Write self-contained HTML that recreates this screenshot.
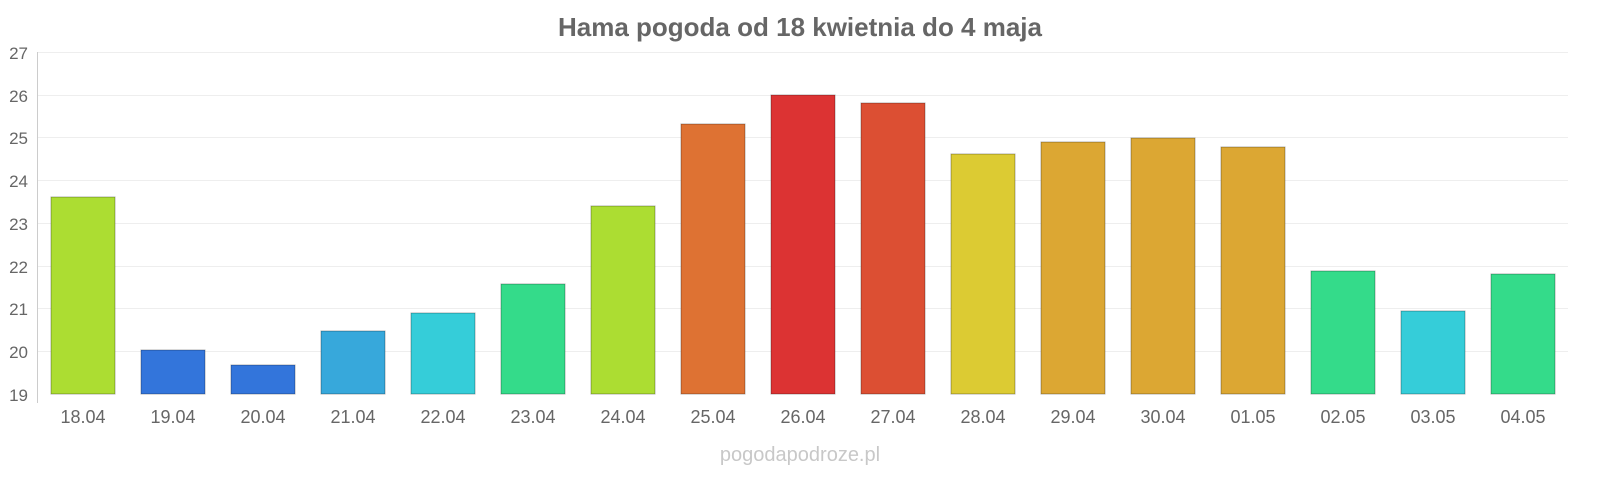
<!DOCTYPE html>
<html><head><meta charset="utf-8"><style>
html,body{margin:0;padding:0;background:#fff;}
svg{display:block;font-family:"Liberation Sans",sans-serif;}
</style></head><body>
<svg width="1600" height="480" viewBox="0 0 1600 480">
<text x="800" y="36" text-anchor="middle" font-size="26" font-weight="bold" fill="#666">Hama pogoda od 18 kwietnia do 4 maja</text>
<g stroke="#eee" stroke-width="1">
<line x1="38" x2="1568" y1="52.5" y2="52.5"/><line x1="38" x2="1568" y1="95.5" y2="95.5"/>
<line x1="38" x2="1568" y1="137.5" y2="137.5"/><line x1="38" x2="1568" y1="180.5" y2="180.5"/>
<line x1="38" x2="1568" y1="223.5" y2="223.5"/><line x1="38" x2="1568" y1="266.5" y2="266.5"/>
<line x1="38" x2="1568" y1="308.5" y2="308.5"/><line x1="38" x2="1568" y1="351.5" y2="351.5"/>
</g>
<line x1="37.5" x2="37.5" y1="52" y2="403" stroke="#ccc"/>
<g font-size="17" fill="#666" text-anchor="end">
<text x="28" y="59">27</text><text x="28" y="102">26</text><text x="28" y="144">25</text><text x="28" y="187">24</text>
<text x="28" y="230">23</text><text x="28" y="273">22</text><text x="28" y="315">21</text><text x="28" y="358">20</text><text x="28" y="401">19</text>
</g>
<g stroke-opacity="0.3" stroke="#000">
<rect x="51" y="197" width="64" height="197" fill="#acdd32"/>
<rect x="141" y="350" width="64" height="44" fill="#3375db"/>
<rect x="231" y="365" width="64" height="29" fill="#3375db"/>
<rect x="321" y="331" width="64" height="63" fill="#37a8db"/>
<rect x="411" y="313" width="64" height="81" fill="#35cdd9"/>
<rect x="501" y="284" width="64" height="110" fill="#34db8a"/>
<rect x="591" y="206" width="64" height="188" fill="#acdd32"/>
<rect x="681" y="124" width="64" height="270" fill="#de7233"/>
<rect x="771" y="95" width="64" height="299" fill="#dc3333"/>
<rect x="861" y="103" width="64" height="291" fill="#dc4f33"/>
<rect x="951" y="154" width="64" height="240" fill="#dccb33"/>
<rect x="1041" y="142" width="64" height="252" fill="#dca733"/>
<rect x="1131" y="138" width="64" height="256" fill="#dca733"/>
<rect x="1221" y="147" width="64" height="247" fill="#dca733"/>
<rect x="1311" y="271" width="64" height="123" fill="#34db8a"/>
<rect x="1401" y="311" width="64" height="83" fill="#35cdd9"/>
<rect x="1491" y="274" width="64" height="120" fill="#34db8a"/>
</g>
<g font-size="18" fill="#666" text-anchor="middle">
<text x="83" y="423">18.04</text><text x="173" y="423">19.04</text><text x="263" y="423">20.04</text><text x="353" y="423">21.04</text>
<text x="443" y="423">22.04</text><text x="533" y="423">23.04</text><text x="623" y="423">24.04</text><text x="713" y="423">25.04</text>
<text x="803" y="423">26.04</text><text x="893" y="423">27.04</text><text x="983" y="423">28.04</text><text x="1073" y="423">29.04</text>
<text x="1163" y="423">30.04</text><text x="1253" y="423">01.05</text><text x="1343" y="423">02.05</text><text x="1433" y="423">03.05</text>
<text x="1523" y="423">04.05</text>
</g>
<text x="800" y="461" text-anchor="middle" font-size="20" fill="#c8c8c8">pogodapodroze.pl</text>
</svg>
</body></html>
